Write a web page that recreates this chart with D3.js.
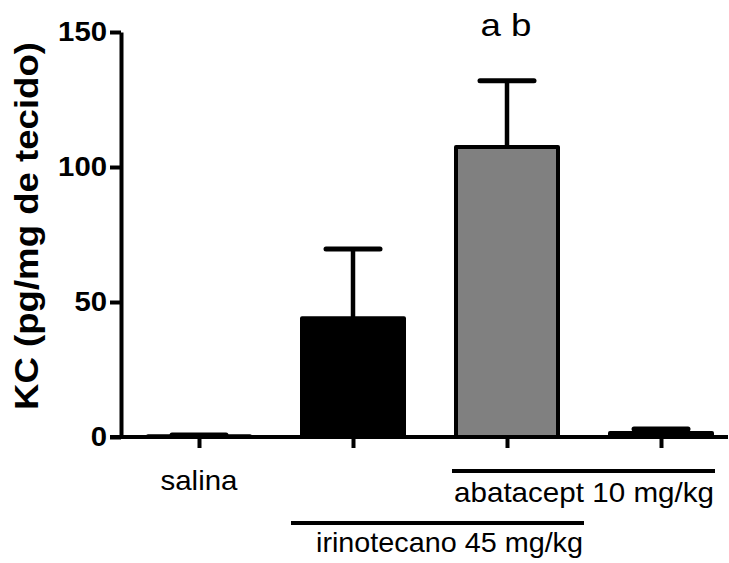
<!DOCTYPE html>
<html>
<head>
<meta charset="utf-8">
<script src="https://cdn.jsdelivr.net/npm/d3@7"></script>
<style>
  body { margin: 0; background: #fff; }
  text { font-family: "Liberation Sans", Arial, sans-serif; fill: #000; }
</style>
</head>
<body>
<div id="chart"></div>
<script>
// Data

var groups = ["salina", "irinotecano", "irinotecano + abatacept", "abatacept"];
var means = [0.3, 44, 107.4, 1.5];
var errors = [0.4, 25.6, 24.5, 1.5];
var barColors = ["#ffffff", "#000000", "#808080", "#000000"];
var yTicks = [0, 50, 100, 150];
var yTitle = "KC (pg/mg de tecido)";
var sigLabel = "a b";

// Chart variables

var width = 729,
    height = 563;

var y = d3.scaleLinear()
    .domain([0, 150])
    .range([437, 32]);

var x = d3.scalePoint()
    .domain(groups)
    .range([199, 661]);

var barWidth = 102,
    capHalf = 27,
    yAxisX = 121,
    xAxisExtent = [110, 728];

var svg = d3.select("#chart").append("svg")
    .attr("width", width)
    .attr("height", height);

var data = groups.map(function(g, i) {
    return {group: g, mean: means[i], err: errors[i], color: barColors[i]};
});

// Error bars (upward only)

var err = svg.selectAll(".err")
    .data(data)
  .enter().append("g")
    .attr("class", "err");

err.append("line")
    .attr("x1", function(d) { return x(d.group); })
    .attr("x2", function(d) { return x(d.group); })
    .attr("y1", function(d) { return y(d.mean); })
    .attr("y2", function(d) { return y(d.mean + d.err); })
    .attr("stroke", "#000")
    .attr("stroke-width", 4.5);

err.append("line")
    .attr("x1", function(d) { return x(d.group) - capHalf; })
    .attr("x2", function(d) { return x(d.group) + capHalf; })
    .attr("y1", function(d) { return y(d.mean + d.err); })
    .attr("y2", function(d) { return y(d.mean + d.err); })
    .attr("stroke", "#000")
    .attr("stroke-width", 5)
    .attr("stroke-linecap", "round");

// Bars

svg.selectAll(".bar")
    .data(data)
  .enter().append("rect")
    .attr("class", "bar")
    .attr("x", function(d) { return x(d.group) - barWidth / 2; })
    .attr("width", barWidth)
    .attr("y", function(d) { return y(d.mean); })
    .attr("height", function(d) { return y(0) - y(d.mean); })
    .attr("fill", function(d) { return d.color; })
    .attr("stroke", "#000")
    .attr("stroke-width", 4)
    .attr("stroke-linejoin", "round");

// Y axis

var yAxis = svg.append("g")
    .attr("transform", "translate(" + yAxisX + ",0)")
    .call(d3.axisLeft(y).tickValues(yTicks).tickSize(11).tickSizeOuter(0).tickPadding(3));

yAxis.select(".domain").attr("stroke-width", 4);
yAxis.selectAll(".tick line").attr("stroke-width", 4);
yAxis.selectAll(".tick text")
    .attr("font-family", null)
    .attr("textLength", function(d) { return String(d).length * 16.3; })
    .attr("lengthAdjust", "spacingAndGlyphs")
    .style("font-size", "28px")
    .style("font-weight", "bold");

svg.append("text")
    .attr("transform", "rotate(-90)")
    .attr("x", -226)
    .attr("y", 38)
    .attr("text-anchor", "middle")
    .attr("textLength", 368)
    .attr("lengthAdjust", "spacingAndGlyphs")
    .style("font-size", "34px")
    .style("font-weight", "bold")
    .text(yTitle);

// X axis

svg.append("line")
    .attr("x1", xAxisExtent[0])
    .attr("x2", xAxisExtent[1])
    .attr("y1", y(0))
    .attr("y2", y(0))
    .attr("stroke", "#000")
    .attr("stroke-width", 4);

var xAxis = svg.append("g")
    .attr("transform", "translate(0," + y(0) + ")")
    .call(d3.axisBottom(x).tickSize(11).tickSizeOuter(0).tickFormat(""));

xAxis.select(".domain").remove();
xAxis.selectAll(".tick line").attr("stroke-width", 4);

// Treatment labels under the axis

svg.append("text")
    .attr("x", x(groups[0]))
    .attr("y", 490)
    .attr("text-anchor", "middle")
    .attr("textLength", 77)
    .attr("lengthAdjust", "spacingAndGlyphs")
    .style("font-size", "28px")
    .text("salina");

var treatments = [
    {label: "abatacept 10 mg/kg", x1: x(groups[2]) - 55, x2: x(groups[3]) + 54, lineY: 471, textY: 502, len: 260},
    {label: "irinotecano 45 mg/kg", x1: x(groups[1]) - 62, x2: (x(groups[2]) + x(groups[3])) / 2, lineY: 523, textY: 552, len: 267}
];

svg.selectAll(".treatLine")
    .data(treatments)
  .enter().append("line")
    .attr("class", "treatLine")
    .attr("x1", function(d) { return d.x1; })
    .attr("x2", function(d) { return d.x2; })
    .attr("y1", function(d) { return d.lineY; })
    .attr("y2", function(d) { return d.lineY; })
    .attr("stroke", "#000")
    .attr("stroke-width", 4);

svg.selectAll(".treatLabel")
    .data(treatments)
  .enter().append("text")
    .attr("class", "treatLabel")
    .attr("x", function(d) { return d.x2 - 1; })
    .attr("y", function(d) { return d.textY; })
    .attr("text-anchor", "end")
    .attr("textLength", function(d) { return d.len; })
    .attr("lengthAdjust", "spacingAndGlyphs")
    .style("font-size", "28px")
    .text(function(d) { return d.label; });

// Significance label

svg.append("text")
    .attr("x", x(groups[2]) - 1)
    .attr("y", 36)
    .attr("text-anchor", "middle")
    .attr("textLength", 51)
    .attr("lengthAdjust", "spacingAndGlyphs")
    .style("font-size", "32px")
    .text(sigLabel);
</script>
</body>
</html>
